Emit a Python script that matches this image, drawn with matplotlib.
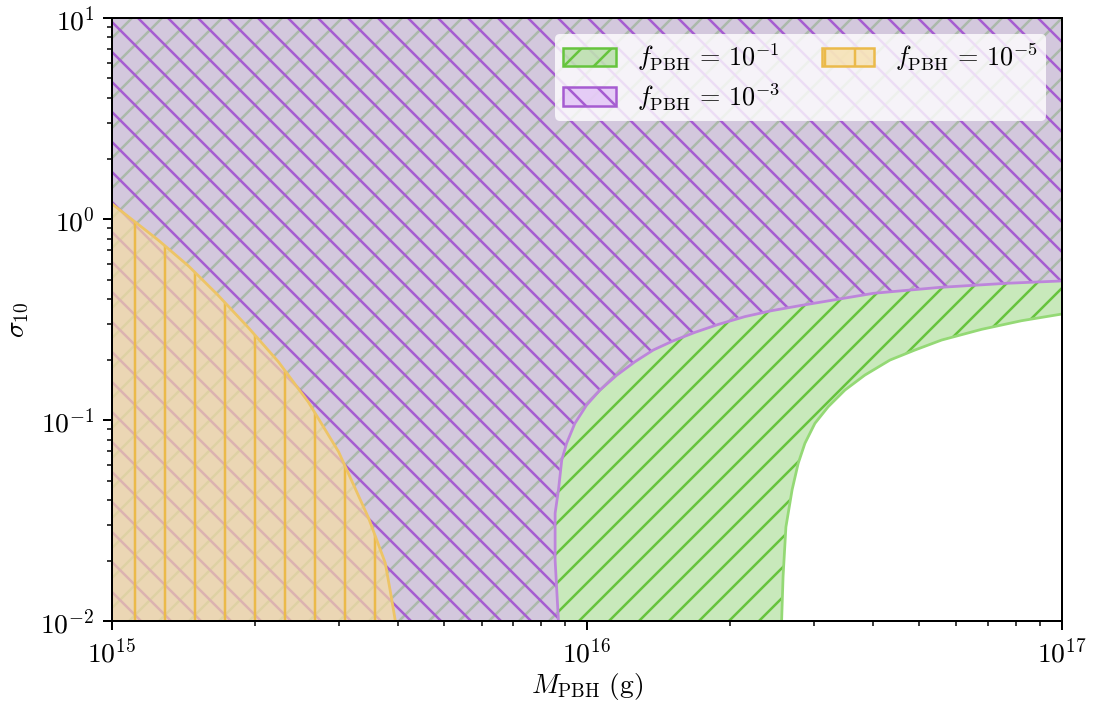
import numpy as np
import matplotlib
matplotlib.use("Agg")
import matplotlib.pyplot as plt
from matplotlib.patches import Patch
from matplotlib.ticker import FuncFormatter

plt.rcParams['mathtext.fontset'] = 'cm'
plt.rcParams['font.size'] = 11
plt.rcParams['hatch.linewidth'] = 1.0

# boundaries of the excluded regions
m_1 = [2.570e16, 2.588e16, 2.624e16, 2.704e16, 2.785e16, 2.877e16, 3.020e16,
       3.221e16, 3.493e16, 3.848e16, 4.345e16, 4.904e16, 5.581e16, 6.774e16,
       8.225e16, 1.0e17]
s_1 = [0.010, 0.0166, 0.0294, 0.045, 0.0609, 0.0766, 0.0963,
       0.1165, 0.141, 0.1674, 0.1988, 0.223, 0.250, 0.2826,
       0.312, 0.3368]

m_3 = [8.71e15, 8.57e15, 8.57e15, 8.71e15, 8.85e15, 9.06e15, 9.43e15,
       9.99e15, 1.065e16, 1.155e16, 1.262e16, 1.379e16, 1.520e16, 1.688e16,
       1.890e16, 2.151e16, 2.448e16, 2.831e16, 4.01e16, 5.53e16, 7.66e16,
       1.0e17]
s_3 = [0.010, 0.0201, 0.0344, 0.0449, 0.0632, 0.0766, 0.0962,
       0.119, 0.141, 0.167, 0.195, 0.223, 0.248, 0.273,
       0.299, 0.327, 0.350, 0.372, 0.427, 0.457, 0.479,
       0.492]

m_5 = [1.0e15, 1.25e15, 1.45e15, 1.67e15, 1.94e15, 2.24e15, 2.59e15,
       3.0e15, 3.47e15, 3.76e15, 3.85e15, 3.95e15]
s_5 = [1.19, 0.787, 0.583, 0.419, 0.287, 0.195, 0.123,
       0.0695, 0.0325, 0.0195, 0.0143, 0.010]

labels = [r'$f_{\rm PBH}\,=\,10^{-1}$', r'$f_{\rm PBH}\,=\,10^{-3}$',
          r'$f_{\rm PBH}\,=\,10^{-5}$']

xlo, xhi = 1e15, 1e17
ylo, yhi = 1e-2, 1e1

green = dict(face=(0.39, 0.76, 0.24, 0.35), hatch=(0.40, 0.77, 0.24),
             line=(0.58, 0.85, 0.46), h='//')
purple = dict(face=(0.86, 0.70, 0.96, 0.60), hatch=(0.65, 0.36, 0.82),
              line=(0.74, 0.52, 0.86), h='\\\\')
orange = dict(face=(0.97, 0.87, 0.63, 0.67), hatch=(0.92, 0.73, 0.29),
              line=(0.93, 0.77, 0.40), h='|')

fig = plt.figure(figsize=(1093/180, 705/180), dpi=180)
ax = fig.add_axes([0.1025, 0.119, 0.869, 0.8555])


def region(xs, ys, st, z):
    ax.fill(xs, ys, facecolor=st['face'], edgecolor='none', lw=0, zorder=z)
    ax.fill(xs, ys, facecolor='none', edgecolor=st['hatch'], lw=0,
            hatch=st['h'], zorder=z + 0.1)


# regions above the curves (f = 1e-1, 1e-3)
for m, s, st, z in [(m_1, s_1, green, 1), (m_3, s_3, purple, 2)]:
    xs = np.concatenate([m, [xhi, xlo, xlo]])
    ys = np.concatenate([s, [yhi, yhi, ylo]])
    region(xs, ys, st, z)
    ax.plot(m, s, color=st['line'], lw=1.1, zorder=z + 0.2)

# region below the curve (f = 1e-5)
xs = np.concatenate([m_5, [xlo]])
ys = np.concatenate([s_5, [ylo]])
region(xs, ys, orange, 3)
ax.plot(m_5, s_5, color=orange['line'], lw=1.1, zorder=3.2)

ax.set_xscale('log')
ax.set_yscale('log')
ax.set_xlim(xlo, xhi)
ax.set_ylim(ylo, yhi)
fmt = FuncFormatter(lambda v, p: r'$10^{%d}$' % int(round(np.log10(v))))
ax.xaxis.set_major_formatter(fmt)
ax.yaxis.set_major_formatter(fmt)
ax.set_xlabel(r'$M_{\rm PBH}\ (\mathrm{g})$', labelpad=1)
ax.set_ylabel(r'$\sigma_{10}$')
for sp in ax.spines.values():
    sp.set_zorder(10)

handles = [Patch(facecolor=st['face'], edgecolor=st['hatch'], hatch=st['h'])
           for st in (green, purple, orange)]
leg = ax.legend(handles, labels, loc='upper right', ncol=2, framealpha=0.8,
                fontsize=10.5, borderaxespad=0.6, labelspacing=0.3,
                borderpad=0.3, columnspacing=1.6)
leg.get_frame().set_edgecolor('none')
leg.set_zorder(11)

fig.savefig('out.png', dpi=180)
